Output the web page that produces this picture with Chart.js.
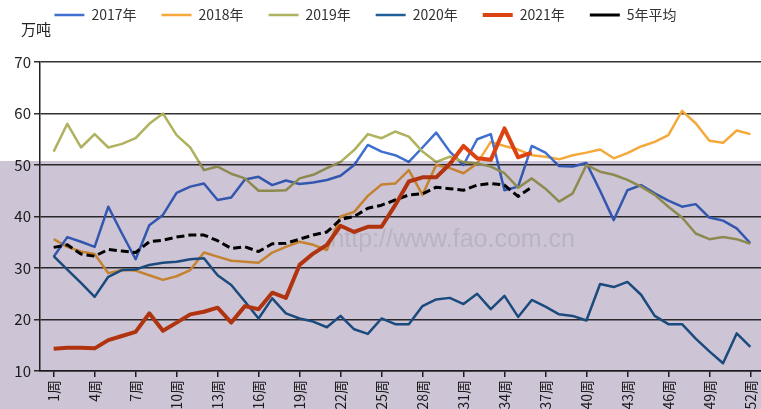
<!DOCTYPE html>
<html><head><meta charset="utf-8">
<script src="https://cdn.jsdelivr.net/npm/chart.js@4"></script>
<style>html,body{margin:0;padding:0;background:#fff;overflow:hidden}canvas{display:block}</style>
</head><body>
<canvas id="c" width="761" height="409"></canvas>
<script>
// ---- data ----
const weeks = [1,2,3,4,5,6,7,8,9,10,11,12,13,14,15,16,17,18,19,20,21,22,23,24,25,26,27,28,29,30,31,32,33,34,35,36,37,38,39,40,41,42,43,44,45,46,47,48,49,50,51,52];
const xTickWeeks = [1,4,7,10,13,16,19,22,25,28,31,34,37,40,43,46,49,52];
const xTickLabels = ['1周','4周','7周','10周','13周','16周','19周','22周','25周','28周','31周','34周','37周','40周','43周','46周','49周','52周'];
const seriesNames = ['2017年','2018年','2019年','2020年','2021年','5年平均'];
const unitLabel = '万吨';
const watermarkText = 'http://www.fao.com.cn';

const s2017 = [32.2,36.0,35.1,34.1,41.9,36.7,31.7,38.3,40.3,44.6,45.8,46.4,43.2,43.7,47.2,47.7,46.1,47.0,46.3,46.6,47.1,47.9,50.0,53.9,52.6,51.9,50.6,53.4,56.3,52.6,50.0,55.0,56.0,45.1,45.8,53.7,52.4,49.8,49.7,50.4,45.0,39.3,45.1,46.1,44.5,43.1,41.9,42.4,39.8,39.2,37.7,34.8];
const s2018 = [35.6,34.1,33.2,32.7,29.0,29.6,29.5,28.6,27.7,28.4,29.6,33.0,32.2,31.4,31.2,31.0,33.0,34.1,35.1,34.5,33.5,40.0,40.9,44.0,46.2,46.4,49.0,44.2,50.0,49.4,48.4,50.3,54.5,53.7,53.0,51.9,51.6,51.1,51.9,52.4,53.0,51.3,52.3,53.6,54.5,55.8,60.5,58.1,54.7,54.3,56.7,56.0];
const s2019 = [52.6,58.0,53.4,56.0,53.4,54.1,55.2,58.0,60.0,55.8,53.4,49.0,49.7,48.3,47.4,45.0,45.0,45.1,47.4,48.1,49.4,50.6,52.9,56.0,55.2,56.5,55.5,52.6,50.6,51.6,50.6,50.3,49.7,48.4,45.6,47.4,45.4,42.9,44.5,50.0,48.7,48.1,47.1,45.8,44.2,41.9,39.8,36.7,35.6,36.0,35.6,34.7];
const s2020 = [32.3,29.7,27.1,24.4,28.3,29.6,29.7,30.6,31.0,31.2,31.7,31.9,28.6,26.7,23.5,20.2,24.1,21.2,20.2,19.6,18.5,20.7,18.1,17.2,20.2,19.1,19.1,22.6,23.9,24.2,23.0,25.0,22.0,24.6,20.5,23.8,22.5,21.0,20.7,19.8,26.9,26.3,27.3,24.8,20.7,19.1,19.1,16.3,13.8,11.5,17.3,14.7];
const s2021 = [14.3,14.5,14.5,14.4,16.0,16.8,17.6,21.2,17.8,19.4,21.0,21.5,22.3,19.4,22.6,22.0,25.2,24.2,30.6,32.8,34.5,38.2,37.0,38.0,38.0,42.2,46.8,47.6,47.6,50.2,53.7,51.3,51.0,57.1,51.5,52.4];
const sAvg  = [34.0,34.5,32.7,32.3,33.6,33.3,33.0,35.1,35.4,36.0,36.4,36.4,35.3,33.8,34.1,33.2,34.7,34.8,35.6,36.4,37.0,39.4,40.0,41.6,42.2,43.2,44.2,44.4,45.7,45.4,45.1,46.1,46.4,46.1,43.9,45.7];

// ---- style ----
const FONT = '"Noto Sans CJK SC", "Noto Sans", sans-serif';
const colors = ['#3f6fd1','#f5a93b','#afb25e','#215f96','#db4312','#000000'];
const widths = [2.5,2.5,2.5,2.5,4,3];
const orders = [4,5,3,2,0,1];
const allSeries = [s2017,s2018,s2019,s2020,s2021,sAvg];

const toPts = arr => arr.map((v,i)=>({x:weeks[i], y:v}));
const datasets = allSeries.map((arr,i)=>({
  label: seriesNames[i],
  data: toPts(arr),
  borderColor: colors[i],
  backgroundColor: colors[i],
  borderWidth: widths[i],
  borderDash: i===5 ? [8,4] : [],
  pointRadius: 0,
  tension: 0,
  order: orders[i],
  borderJoinStyle: 'round'
}));

const helper = {
  id: 'helper',
  beforeInit(chart){
    const lg = chart.legend;
    if (lg) { const f = lg.fit; lg.fit = function(){ f.call(this); this.height = 62; }; }
  },
  afterLayout(chart){
    const lg = chart.legend;
    if (lg) { lg.top = -17; lg.bottom = lg.top + lg.height; lg.left = -15; lg.right = chart.width - 15; }
  },
  beforeDraw(chart){
    const c = chart.ctx; c.save(); c.fillStyle = '#fff'; c.fillRect(0,0,chart.width,chart.height); c.restore();
  },
  beforeDatasetsDraw(chart){
    const c = chart.ctx; c.save();
    c.font = '25px "Liberation Sans", Arial, sans-serif';
    c.fillStyle = 'rgba(140,140,140,0.2)';
    c.textAlign = 'right'; c.textBaseline = 'alphabetic';
    c.fillText(watermarkText, 575, 247);
    c.restore();
  },
  afterDraw(chart){
    const c = chart.ctx; c.save();
    c.font = '15px ' + FONT; c.fillStyle = '#222'; c.textAlign = 'left'; c.textBaseline = 'middle';
    c.fillText(unitLabel, 21, 29);
    c.globalCompositeOperation = 'multiply';
    c.fillStyle = 'rgb(205,197,213)';
    c.fillRect(0, 161, chart.width, chart.height - 161);
    c.restore();
  }
};

new Chart(document.getElementById('c'), {
  type: 'line',
  data: { datasets },
  plugins: [helper],
  options: {
    responsive: false,
    animation: false,
    devicePixelRatio: 1,
    layout: { padding: 0 },
    plugins: {
      legend: {
        position: 'top',
        labels: {
          usePointStyle: true, pointStyle: 'line', pointStyleWidth: 30,
          boxHeight: 14, padding: 25, color: '#333',
          font: { family: FONT, size: 14 },
          sort: (a, b) => a.datasetIndex - b.datasetIndex
        }
      },
      tooltip: { enabled: false }
    },
    scales: {
      x: {
        type: 'linear', min: 0, max: 52.78,
        afterBuildTicks: s => { s.ticks = xTickWeeks.map(v => ({ value: v })); },
        afterFit: s => { s.height = 38; s.paddingLeft = 0; s.paddingRight = 0; },
        ticks: {
          autoSkip: false, minRotation: 90, maxRotation: 90, padding: 3,
          color: '#222', font: { family: FONT, size: 14 },
          callback: v => xTickLabels[xTickWeeks.indexOf(v)]
        },
        grid: { drawOnChartArea: false, drawTicks: true, tickLength: 6, color: '#222', lineWidth: 1.5 },
        border: { color: '#222', width: 1.5 }
      },
      y: {
        min: 10, max: 70,
        afterFit: s => { s.width = 40; },
        ticks: { stepSize: 10, padding: 3, color: '#222', font: { family: FONT, size: 15 } },
        grid: { color: '#333', lineWidth: 1.5, tickLength: 6 },
        border: { color: '#222', width: 1.5 }
      }
    }
  }
});
</script>
</body></html>
